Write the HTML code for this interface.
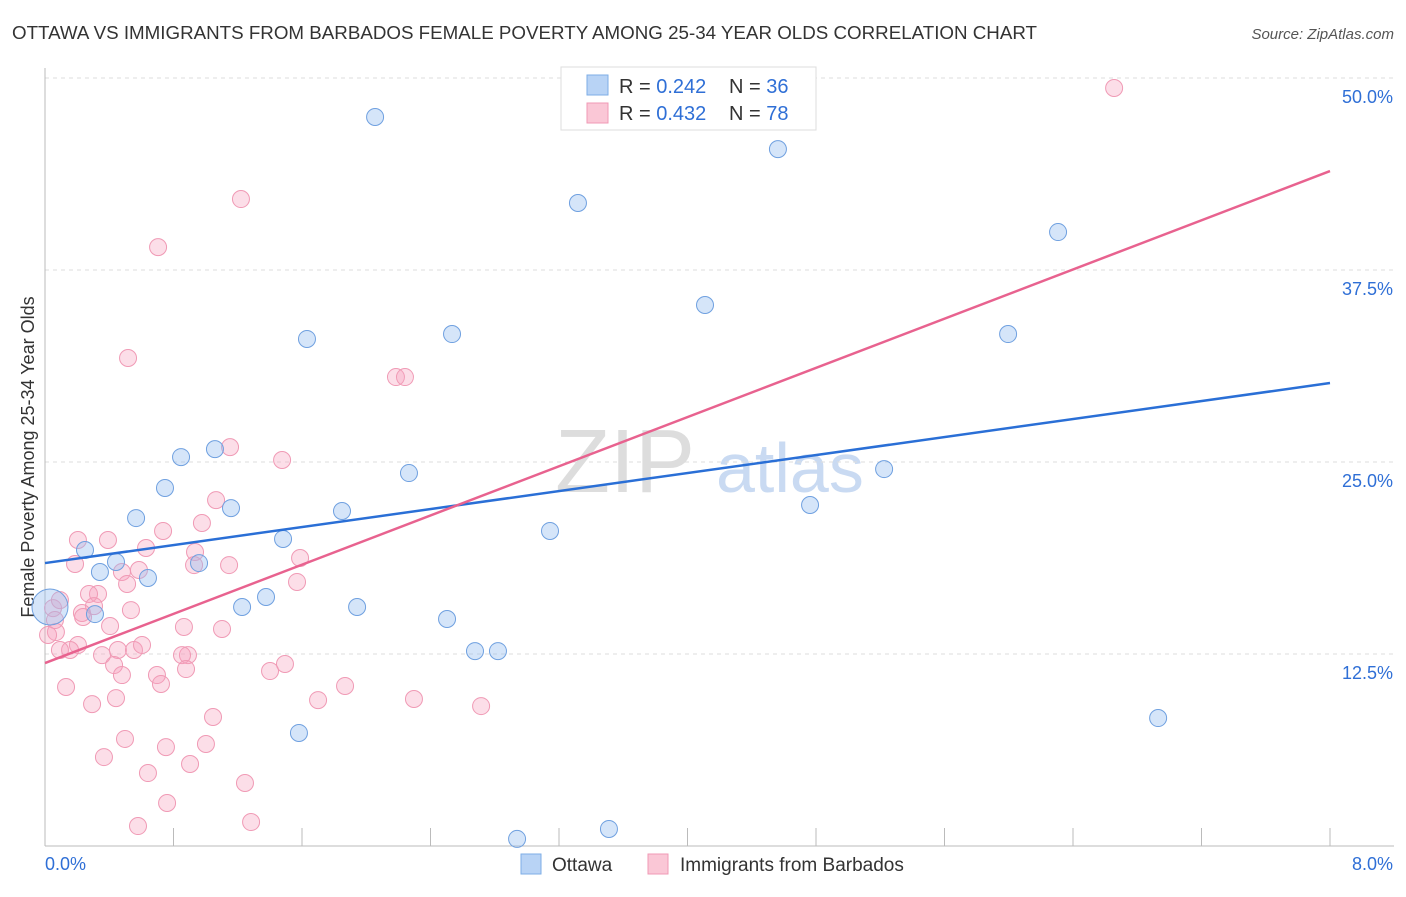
<!DOCTYPE html>
<html><head><meta charset="utf-8"><style>
body{margin:0;background:#fff;font-family:"Liberation Sans",sans-serif;}
svg text{font-family:"Liberation Sans",sans-serif;}
</style></head><body>
<svg id="chart" width="1406" height="892">
<text x="12" y="39" font-size="18" fill="#333" textLength="1025" lengthAdjust="spacingAndGlyphs">OTTAWA VS IMMIGRANTS FROM BARBADOS FEMALE POVERTY AMONG 25-34 YEAR OLDS CORRELATION CHART</text>
<text x="1394" y="39" font-size="15" fill="#555" font-style="italic" text-anchor="end">Source: ZipAtlas.com</text>
<text x="34" y="457" font-size="18" fill="#333" text-anchor="middle" transform="rotate(-90 34 457)">Female Poverty Among 25-34 Year Olds</text>
<text x="555" y="492" font-size="90" fill="#ddd" font-family="Liberation Serif">ZIP</text>
<text x="716" y="492" font-size="70" fill="#c9daf2">atlas</text>
<g id="grid"></g><g id="pts"></g><g id="trend"></g>
<g>
<rect x="561" y="67" width="255" height="63" fill="#fff" stroke="#ddd"/>
<rect x="587" y="75" width="21" height="20" fill="#b8d3f5" stroke="#7eaee6"/>
<rect x="587" y="103" width="21" height="20" fill="#fac7d6" stroke="#f09ab5"/>
<text x="619" y="93" font-size="20" fill="#333">R = <tspan fill="#2f6fd6">0.242</tspan></text>
<text x="729" y="93" font-size="20" fill="#333">N = <tspan fill="#2f6fd6">36</tspan></text>
<text x="619" y="120" font-size="20" fill="#333">R = <tspan fill="#2f6fd6">0.432</tspan></text>
<text x="729" y="120" font-size="20" fill="#333">N = <tspan fill="#2f6fd6">78</tspan></text>
</g>
<g>
<rect x="521" y="854" width="20" height="20" fill="#b8d3f5" stroke="#7eaee6"/>
<text x="552" y="871" font-size="19" fill="#333">Ottawa</text>
<rect x="648" y="854" width="20" height="20" fill="#fac7d6" stroke="#f09ab5"/>
<text x="680" y="871" font-size="19" fill="#333">Immigrants from Barbados</text>
</g>
</svg>
<script>
const yTicks=[12.5,25,37.5,50];
const yTickLabels=["12.5%","25.0%","37.5%","50.0%"];
const xLabels=["0.0%","8.0%"];
const blueX=[2.055,4.563,3.318,6.307,4.109,2.534,1.631,5.996,1.058,0.847,0.747,2.266,5.224,1.158,0.567,1.849,4.763,3.144,1.482,0.249,0.442,0.959,0.342,0.641,1.376,1.227,1.943,0.311,2.503,2.677,2.820,1.581,6.930,2.939,3.511,0.031];
const blueY=[47.46,45.37,41.86,39.97,35.22,33.33,33.01,33.33,25.84,25.32,23.31,24.28,24.54,22.00,21.35,21.81,22.20,20.51,19.99,19.27,18.49,18.42,17.84,17.45,16.21,15.56,15.56,15.10,14.78,12.69,12.69,7.36,8.33,0.46,1.11,15.56];
const pinkX=[6.656,1.220,0.704,0.517,2.185,2.241,1.152,1.476,1.065,0.735,0.977,0.205,0.392,0.629,0.934,0.187,0.928,1.146,1.588,1.569,0.479,0.585,0.511,0.330,0.274,0.535,0.305,0.230,0.405,0.237,0.050,0.068,0.865,1.102,0.205,0.156,0.093,0.355,0.454,0.554,0.604,0.890,0.853,0.430,0.697,0.878,0.479,1.494,1.401,0.131,0.722,1.868,0.293,0.442,2.297,1.700,2.715,1.046,0.498,0.367,1.002,0.753,0.641,0.903,1.245,0.760,0.579,1.283,0.062,0.019,0.093];
const pinkY=[49.35,42.12,38.99,31.77,30.53,30.53,25.97,25.13,22.52,20.51,21.03,19.92,19.92,19.40,19.14,18.36,18.29,18.29,18.75,17.19,17.84,17.97,17.06,16.41,16.41,15.36,15.62,15.17,14.32,14.91,15.49,13.93,14.26,14.13,13.09,12.76,12.76,12.43,12.76,12.76,13.09,12.43,12.43,11.78,11.13,11.52,11.13,11.85,11.39,10.35,10.55,10.42,9.24,9.63,9.57,9.50,9.11,8.40,6.97,5.79,6.64,6.44,4.75,5.34,4.10,2.80,1.30,1.56,14.71,13.74,16.01];
const blueTrend=[18.42,30.14];
const pinkTrend=[11.91,43.94];
const X0=45,X1=1330,Y0=846,PPY=192/12.5;
const sx=v=>X0+(X1-X0)*v/8, sy=v=>Y0-v*PPY;
const NS="http://www.w3.org/2000/svg";
function mk(t,a,p){const e=document.createElementNS(NS,t);for(const k in a)e.setAttribute(k,a[k]);p.appendChild(e);return e;}
const grid=document.getElementById('grid');
yTicks.forEach((t,i)=>{
 const l=mk('line',{x1:X0,x2:1394,y1:sy(t),y2:sy(t),stroke:'#ddd','stroke-dasharray':'4,4'},grid);
 
 
 const tx=mk('text',{x:1393,y:sy(t)+25,'font-size':18,fill:'#2f6fd6','text-anchor':'end'},grid);
 tx.textContent=yTickLabels[i];
 
 
});
const ax=mk('line',{x1:X0,x2:X0,y1:68,y2:846,stroke:'#bbb'},grid);


const bx=mk('line',{x1:X0,x2:1394,y1:846,y2:846,stroke:'#bbb'},grid);


for(let i=1;i<=10;i++){const t=mk('line',{x1:sx(i*0.8),x2:sx(i*0.8),y1:828,y2:846,stroke:'#bbb'},grid);
 
 }
[[X0+0,'start',0],[1393,'end',1]].forEach(([x,a,i])=>{const t=mk('text',{x:x,y:870,'font-size':18,fill:'#2f6fd6','text-anchor':a},grid);t.textContent=xLabels[i];
 
 });
const pts=document.getElementById('pts');
pinkX.forEach((x,i)=>{const c=mk('circle',{cx:sx(x),cy:sy(pinkY[i]),r:8.5,fill:'rgba(246,160,188,0.35)',stroke:'#f09ab5','stroke-width':1},pts);
 
 });
blueX.forEach((x,i)=>{const c=mk('circle',{cx:sx(x),cy:sy(blueY[i]),r:i==blueX.length-1?18:8.5,fill:'rgba(150,190,240,0.4)',stroke:'#6fa0e0','stroke-width':1},pts);
 
 });
const tr=document.getElementById('trend');
const bl=mk('line',{x1:sx(0),y1:sy(blueTrend[0]),x2:sx(8),y2:sy(blueTrend[1]),stroke:'#2a6fd6','stroke-width':2.5},tr);


const pl=mk('line',{x1:sx(0),y1:sy(pinkTrend[0]),x2:sx(8),y2:sy(pinkTrend[1]),stroke:'#e8628f','stroke-width':2.5},tr);


</script>
</body></html>
